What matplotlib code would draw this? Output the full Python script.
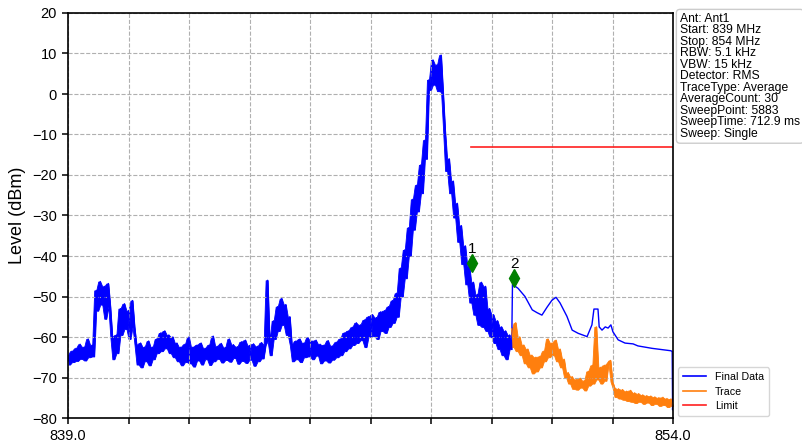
import numpy as np
import matplotlib
matplotlib.use('Agg')
import matplotlib.pyplot as plt
from matplotlib.lines import Line2D

plt.rcParams['font.family'] = ['Liberation Sans', 'DejaVu Sans']

# spectrum analyser settings shown in the info box
info_lines = ["Ant: Ant1", "Start: 839 MHz", "Stop: 854 MHz", "RBW: 5.1 kHz",
              "VBW: 15 kHz", "Detector: RMS", "TraceType: Average",
              "AverageCount: 30", "SweepPoint: 5883", "SweepTime: 712.9 ms",
              "Sweep: Single"]

f_start, f_stop = 839.0, 854.0
step = 0.05  # MHz between the plotted samples

# final data, 839.00 .. 850.00 MHz (alternating upper / lower edge of the noise)
final_band = [
    -64.5, -66.8, -63.5, -66.2, -62.8, -65.9, -61.8, -65.4, -62.5, -65.8,
    -60.5, -65.0, -62.0, -64.8, -48.5, -53.5, -46.3, -52.0, -47.5, -55.5,
    -46.8, -52.5, -60.0, -65.5, -59.5, -64.0, -53.0, -59.5, -51.8, -58.0,
    -53.5, -60.5, -51.0, -57.5, -62.0, -66.8, -61.5, -67.5, -62.5, -66.0,
    -61.0, -67.0, -62.5, -65.5, -60.5, -64.0, -59.0, -63.5, -58.5, -62.8,
    -59.5, -64.0, -60.0, -65.0, -61.5, -66.0, -62.5, -67.0, -61.8, -66.2,
    -60.0, -66.5, -62.5, -67.3, -62.0, -65.8, -61.5, -66.8, -62.8, -65.5,
    -62.0, -66.9, -59.8, -66.0, -62.3, -65.4, -61.6, -66.3, -62.6, -65.7,
    -60.5, -66.1, -61.9, -65.2, -62.4, -66.6, -61.2, -65.9, -60.8, -66.4,
    -62.1, -65.6, -61.7, -67.1, -62.3, -66.0, -61.4, -65.3, -62.0, -46.0,
    -61.0, -64.5, -56.0, -60.5, -52.5, -58.5, -50.5, -57.0, -52.0, -59.5,
    -55.0, -62.0, -66.0, -61.0, -65.5, -60.5, -66.2, -61.5, -65.0, -60.2,
    -64.8, -61.0, -65.5, -60.8, -64.6, -61.8, -66.5, -62.0, -65.8, -60.9,
    -66.3, -62.2, -65.6, -61.3, -65.0, -60.5, -64.5, -59.0, -63.5, -58.5,
    -62.8, -57.6, -62.0, -56.5, -61.5, -57.0, -60.8, -55.8, -62.5, -55.0,
    -60.0, -54.5, -59.8, -55.2, -60.5, -53.8, -58.5, -53.5, -59.0, -52.5,
    -57.5, -51.0, -56.5, -49.2, -55.0, -43.0, -50.0, -38.5, -45.5, -33.0,
    -40.0, -26.0, -33.5, -22.5, -29.0, -17.5, -24.5, -11.4, -16.0, 3.5,
    1.0, 8.4, 2.3, 7.2, 0.7, 9.6, 0.5, -8.9, -19.0, -16.0,
    -24.5, -21.5, -30.5, -27.0, -36.5, -32.5, -42.0, -37.5, -47.0, -42.5,
    -51.5, -46.5, -54.5, -49.5, -57.0, -46.5, -57.5, -47.5, -58.5, -53.0,
    -60.0, -54.5, -61.5, -56.0, -63.0, -57.5, -64.5, -58.5, -65.5, -59.5,
    -63.0,
]

# final data above 850 MHz (smooth part)
final_tail_freq = [850.02, 850.16, 850.33, 850.51, 850.63, 850.75, 850.88, 851.00,
                   851.10, 851.20, 851.37, 851.50, 851.65, 851.87, 851.99, 852.04,
                   852.14, 852.17, 852.24, 852.32, 852.39, 852.46, 852.51, 852.64,
                   852.81, 853.01, 853.13, 853.48, 853.95, 853.98, 853.99, 854.00]
final_tail_level = [-47.0, -48.0, -50.0, -53.3, -54.0, -54.6, -52.6, -50.9,
                    -50.2, -51.6, -54.9, -58.3, -59.1, -59.9, -57.0, -53.1,
                    -53.1, -57.5, -58.3, -57.5, -57.8, -57.0, -58.7, -60.7,
                    -61.5, -61.7, -62.2, -62.8, -63.4, -63.6, -78.0, -75.5]

# trace, 850.00 .. 854.00 MHz
trace_level = [
    -58.0, -62.5, -56.5, -63.5, -60.0, -64.5, -62.0, -66.5, -63.0, -67.5,
    -64.5, -69.0, -65.0, -68.5, -64.8, -67.5, -63.5, -66.0, -60.5, -65.0,
    -61.5, -64.5, -60.8, -66.0, -63.0, -67.5, -65.5, -70.0, -68.8, -71.5,
    -69.8, -72.8, -70.5, -73.0, -70.2, -72.5, -70.8, -73.2, -68.5, -72.0,
    -67.0, -71.5, -57.5, -70.5, -67.5, -71.5, -67.0, -70.8, -66.5, -65.8,
    -71.0, -72.5, -74.8, -72.8, -75.2, -73.0, -75.5, -73.4, -75.8, -73.2,
    -76.0, -73.8, -76.3, -74.0, -76.0, -74.3, -76.5, -74.5, -76.2, -74.6,
    -76.8, -74.8, -76.5, -75.0, -77.0, -74.9, -76.8, -75.2, -77.3, -75.3,
    -77.0,
]
trace_start = 850.0

limit_freq = [849.0, 854.0]
limit_level = [-13.0, -13.0]

marker_freq = [849.02, 850.07]
marker_level = [-41.7, -45.4]
marker_label = ["1", "2"]


def noise_band(ax, freq, level, color):
    # shade between neighbouring samples so the noise reads as a solid band
    lv = np.asarray(level)
    nxt = np.append(lv[1:], lv[-1])
    ax.fill_between(freq, np.minimum(lv, nxt), np.maximum(lv, nxt),
                    color=color, lw=0.6)


band_freq = f_start + step * np.arange(len(final_band))
final_freq = np.concatenate([band_freq, final_tail_freq])
final_level = np.concatenate([final_band, final_tail_level])
trace_freq = trace_start + step * np.arange(len(trace_level))

fig = plt.figure(figsize=(8.02, 4.44), dpi=100)
ax = fig.add_axes([68 / 802, 1 - 418 / 444, 605 / 802, 405 / 444])

noise_band(ax, band_freq, final_band, '#0000ff')
ax.plot(final_freq, final_level, color='#0000ff', lw=1.0)
noise_band(ax, trace_freq, trace_level, '#ff7f0e')
ax.plot(trace_freq, trace_level, color='#ff7f0e', lw=1.0)
ax.plot(limit_freq, limit_level, color='#ff2020', lw=1.2)

ax.plot(marker_freq, marker_level, 'd', color='#008000', ms=9, zorder=5)
for f, l, s in zip(marker_freq, marker_level, marker_label):
    ax.annotate(s, (f, l), xytext=(0, 5), textcoords='offset points',
                ha='center', va='bottom', fontsize=11)

ax.set_xlim(f_start, f_stop)
ax.set_ylim(-80, 20)
ax.set_yticks(np.arange(-80, 21, 10))
xt = np.linspace(f_start, f_stop, 11)
ax.set_xticks(xt)
ax.set_xticklabels(['839.0'] + [''] * 9 + ['854.0'])
ax.tick_params(labelsize=10.5, direction='out', length=4.5, width=1.1)
ax.grid(True, ls='--', color='#b0b0b0', lw=0.8)
for sp in ax.spines.values():
    sp.set_linewidth(1.2)
    sp.set_color('black')
ax.set_ylabel('Level (dBm)', fontsize=13)

fig.text(680 / 802, 1 - 13 / 444, "\n".join(info_lines), fontsize=8.7,
         va='top', ha='left', linespacing=0.94,
         bbox=dict(boxstyle='round,pad=0.3', fc='white', ec='#cccccc'))

handles = [Line2D([], [], color='#0000ff', lw=1.2),
           Line2D([], [], color='#ff7f0e', lw=1.2),
           Line2D([], [], color='#ff2020', lw=1.2)]
fig.legend(handles, ['Final Data', 'Trace', 'Limit'], loc='lower left',
           bbox_to_anchor=(678 / 802, 1 - 416 / 444), fontsize=7.7,
           handlelength=2.2, borderpad=0.45, labelspacing=0.42,
           borderaxespad=0)

fig.savefig('out.png', dpi=100)
